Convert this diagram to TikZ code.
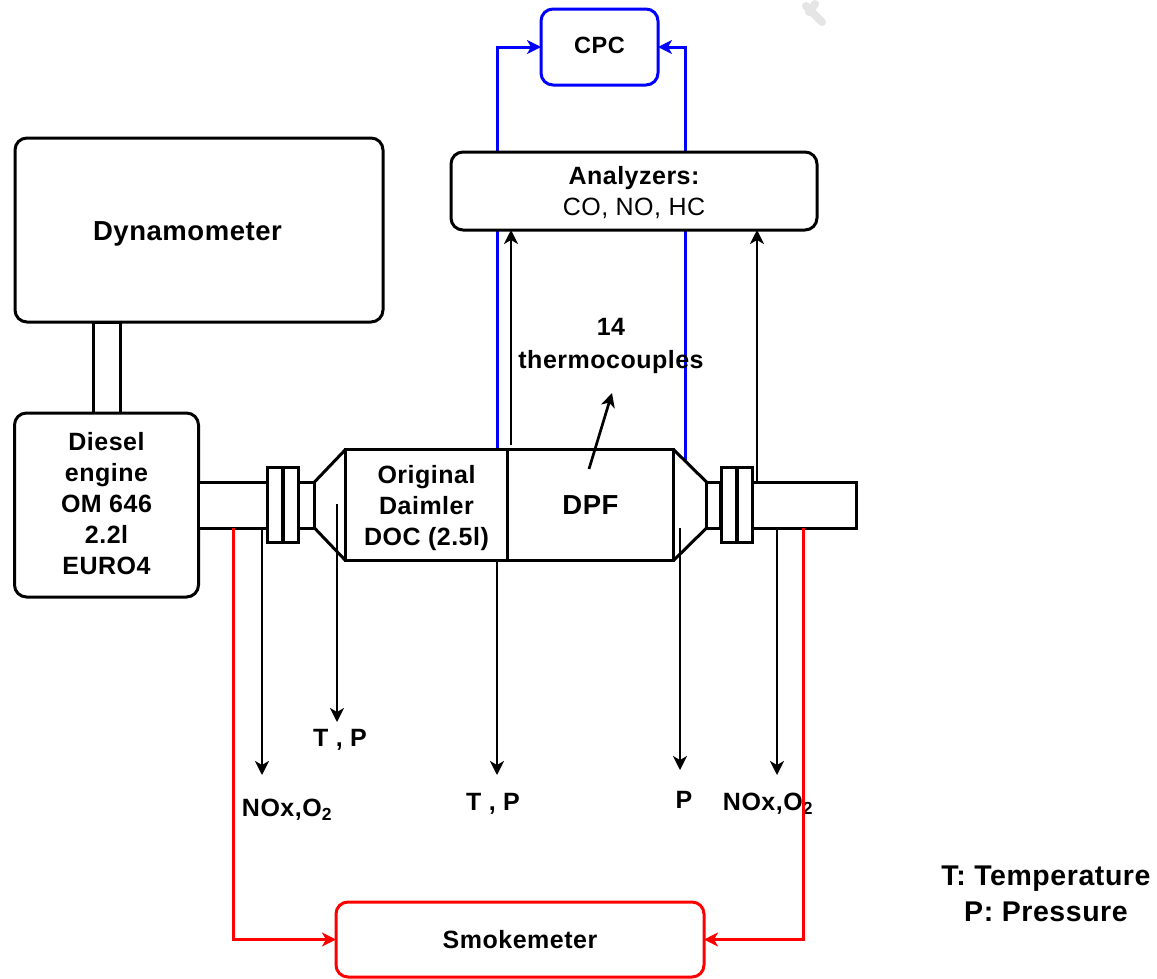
\documentclass[tikz,border=0pt]{standalone}
\usepackage{fontspec}
\setmainfont[LetterSpace=2]{Liberation Sans}
\usetikzlibrary{arrows.meta,positioning}
\tikzstyle{block} = [draw,fill=white,line width=3pt,rounded corners=12pt,align=center,inner sep=0pt,outer sep=0pt,font=\fontsize{25}{31}\selectfont\bfseries]
\tikzstyle{part}  = [draw,fill=white,line width=3pt,align=center,inner sep=0pt,outer sep=0pt,font=\fontsize{25}{31}\selectfont\bfseries]
\tikzstyle{label} = [inner sep=0pt,align=center,font=\fontsize{25}{33}\selectfont\bfseries]
\tikzstyle{probe} = [->,line width=2.7pt]
\tikzstyle{cpcline} = [->,line width=3pt,blue]
\tikzstyle{smokeline} = [->,line width=3pt,red]

\begin{document}
\begin{tikzpicture}[>={Stealth[length=14pt,width=14pt,inset=4pt]},x=1pt,y=-1pt,node distance=0pt]
\useasboundingbox (0,0) rectangle (1157,978);

% faint mark at the top
\draw[line width=8pt,line cap=round,gray!20] (806,6) -- (822,22) (815,4) -- (809,12);

% sampling points
\coordinate (BlueL) at (497,449);
\coordinate (BlueR) at (685,460);
\coordinate (TapDoc) at (511,445);
\coordinate (TapOut) at (757,482);
\coordinate (TapA) at (262,528);
\coordinate (TapB) at (337,504);
\coordinate (TapC) at (497,560);
\coordinate (TapD) at (680,528);
\coordinate (TapE) at (777,528);
\coordinate (RedL) at (233,528);
\coordinate (RedR) at (803,528);
\coordinate (EndA) at (262,775);
\coordinate (EndB) at (337,722);
\coordinate (EndC) at (497,775);
\coordinate (EndD) at (680,770);
\coordinate (EndE) at (777,775);
\coordinate (TcStart) at (589,469);
\coordinate (TcEnd) at (612,393);

% blue lines run behind the analyzers
\node[block,draw=blue,minimum width=117pt,minimum height=76pt] (CPC) at (599.5,47) {\fontsize{23.5}{28}\selectfont\rule[-4pt]{0pt}{1pt}CPC};
\draw[cpcline] (BlueL) |- (CPC.west);
\draw[cpcline] (BlueR) |- (CPC.east);
\node[block,minimum width=366pt,minimum height=78pt] (Analyzers) at (634,191) {\rule{0pt}{22pt}Analyzers:\\{\mdseries CO, NO, HC}};

\node[block,minimum width=368pt,minimum height=184pt] (Dyno) at (199,230) {\hspace*{-23pt}\fontsize{27.5}{32}\selectfont\rule{0pt}{27pt}Dynamometer};
\node[part,minimum width=27pt,minimum height=91pt] (Shaft) at (106.5,367.5) {};
\node[block,minimum width=184pt,minimum height=184pt,below=of Shaft] (Engine) {Diesel\\engine\\OM 646\\2.2l\\\rule[-4pt]{0pt}{1pt}EURO4};

\node[part,minimum width=69pt,minimum height=46pt,right=of Engine] (Pipe) {};
\node[part,minimum width=15pt,minimum height=75pt,right=of Pipe] (FlangeA) {};
\node[part,minimum width=15pt,minimum height=75pt,right=1pt of FlangeA] (FlangeB) {};
\node[part,minimum width=16pt,minimum height=46pt,right=of FlangeB] (NeckL) {};
\node[part,minimum width=162pt,minimum height=111pt,right=31pt of NeckL] (DOC) {\rule{0pt}{24pt}Original\\Daimler\\DOC (2.5l)};
\node[part,minimum width=166pt,minimum height=111pt,right=of DOC] (DPF) {\fontsize{27.5}{32}\selectfont DPF};
\node[part,minimum width=14pt,minimum height=46pt,right=33pt of DPF] (NeckR) {};
\node[part,minimum width=15pt,minimum height=75pt,right=1pt of NeckR] (FlangeC) {};
\node[part,minimum width=15pt,minimum height=75pt,right=1pt of FlangeC] (FlangeD) {};
\node[part,minimum width=104pt,minimum height=46pt,right=of FlangeD] (Tail) {};

\draw[line width=3pt] (NeckL.north east) -- (DOC.north west);
\draw[line width=3pt] (NeckL.south east) -- (DOC.south west);
\draw[line width=3pt] (DPF.north east) -- (NeckR.north west);
\draw[line width=3pt] (DPF.south east) -- (NeckR.south west);

\node[block,draw=red,minimum width=368pt,minimum height=75pt] (Smoke) at (520,939.5) {Smokemeter};

\node[label] (Thermo) at (611,345.5) {14\\thermocouples};
\node[label] (LabB) at (340,740) {T , P};
\node[label] (LabA) at (287,810) {NOx,O$_{\mathbf 2}$};
\node[label] (LabC) at (493,804) {T , P};
\node[label] (LabD) at (684,800) {P};
\node[label] (LabE) at (768,804) {NOx,O$_{\mathbf 2}$};
\node[label,font=\fontsize{28.5}{36}\selectfont\bfseries] (Legend) at (1046,894) {T: Temperature\\P: Pressure};

\draw[probe] (TapDoc) -- (TapDoc |- Analyzers.south);
\draw[probe] (TapOut) -- (TapOut |- Analyzers.south);
\draw[probe] (TcStart) -- (TcEnd);
\draw[probe] (TapA) -- (EndA);
\draw[probe] (TapB) -- (EndB);
\draw[probe] (TapC) -- (EndC);
\draw[probe] (TapD) -- (EndD);
\draw[probe] (TapE) -- (EndE);
\draw[smokeline] (RedL) |- (Smoke.west);
\draw[smokeline] (RedR) |- (Smoke.east);

\end{tikzpicture}
\end{document}
